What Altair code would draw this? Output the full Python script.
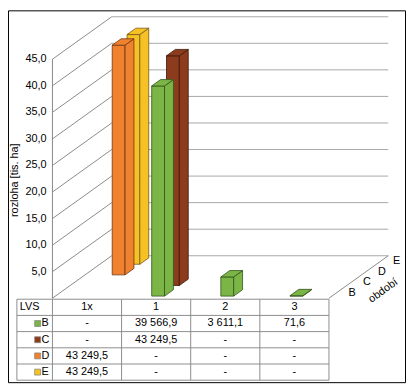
import altair as alt
import pandas as pd

# ---------------- data ----------------
CATEGORIES = ["1x", "1", "2", "3"]
SERIES = ["B", "C", "D", "E"]
B_VALUES = [None, 39566.9, 3611.1, 71.6]
C_VALUES = [None, 43249.5, None, None]
D_VALUES = [43249.5, None, None, None]
E_VALUES = [43249.5, None, None, None]
Y_TICKS = [5, 10, 15, 20, 25, 30, 35, 40, 45]
Y_MAX = 45
Y_TITLE = "rozloha [tis. ha]"
DEPTH_TITLE = "období"
TABLE_HEAD = "LVS"

# ---------------- styles ----------------
FRONT = ["#7BB545", "#8C3C1D", "#F0822F", "#F6C223"]
SIDE = ["#4E7C2F", "#5A2711", "#A3552A", "#A8862F"]
TOP = ["#5E9236", "#6E3117", "#C4692C", "#C9A033"]
EDGE = ["#34541C", "#3A1706", "#6E3411", "#77591A"]
GRID_DIAG = "#8a8a8a"
GRID_BACK = "#a8a8a8"
TABLE_LINE = "#8c8c8c"
FONT = "Liberation Sans"

# ---------------- geometry (chart px) ----------------
X0_PX = 45.0        # position of category 0 on the front edge
CAT_PX = 70.0       # width of one category
Y0_PX = 291.5       # value 0 on the front edge
K = 5.378           # px per tis. ha
DEPTH_DX, DEPTH_DY = 60.0, 43.0
SLOT_DX, SLOT_DY = DEPTH_DX / 4, DEPTH_DY / 4
GAP = 0.2
BAR_DEPTH = 0.6
BAR_W = 13.0
BAR_SHIFT = -1.0
ROW_H = 16.4
TABLE_TOP = 300.5 - 8  # chart px
TABLE_LEFT = 17 - 8


def ux(px):
    return px / CAT_PX


def uy(px):
    return px / K


def cx(chart_px):  # chart px -> x units
    return (chart_px - X0_PX) / CAT_PX


def cy(chart_px):  # chart px -> y units
    return (Y0_PX - chart_px) / K


XS = alt.Scale(domain=[0, 4], range=[X0_PX, X0_PX + 4 * CAT_PX], nice=False, zero=False)
YS = alt.Scale(domain=[0, Y_MAX], range=[Y0_PX, Y0_PX - Y_MAX * K], nice=False, zero=False)


def X(f="x"):
    return alt.X(f, type="quantitative", scale=XS, axis=None)


def Y(f="y"):
    return alt.Y(f, type="quantitative", scale=YS, axis=None)


series_vals = dict(zip(SERIES, [B_VALUES, C_VALUES, D_VALUES, E_VALUES]))

# ---------------- bars ----------------
front_rows, side_rows, top_rows = [], [], []
for i, s in enumerate(reversed(SERIES)):
    idx = SERIES.index(s)
    for j, c in enumerate(CATEGORIES):
        v = series_vals[s][j]
        if v is None:
            continue
        h = v / 1000.0
        ddx = ux(idx * SLOT_DX + GAP * SLOT_DX)
        ddy = uy(idx * SLOT_DY + GAP * SLOT_DY)
        x1 = j + 0.5 + ux(BAR_SHIFT - BAR_W / 2) + ddx
        x2 = x1 + ux(BAR_W)
        yb, yt = ddy, ddy + h
        bdx, bdy = ux(BAR_DEPTH * SLOT_DX), uy(BAR_DEPTH * SLOT_DY)
        bid = f"{s}-{c}"
        front_rows.append(dict(id=bid, series=s, x=x1, x2=x2, y=yb, y2=yt))
        side_rows.append(dict(id=bid, series=s, x=x2, y=yb, y2=yt))
        side_rows.append(dict(id=bid, series=s, x=x2 + bdx, y=yb + bdy, y2=yt + bdy))
        top_rows.append(dict(id=bid, series=s, y=yt, x=x1, x2=x2))
        top_rows.append(dict(id=bid, series=s, y=yt + bdy, x=x1 + bdx, x2=x2 + bdx))

fill_front = alt.Fill("series:N", scale=alt.Scale(domain=SERIES, range=FRONT), legend=None)
fill_side = alt.Fill("series:N", scale=alt.Scale(domain=SERIES, range=SIDE), legend=None)
fill_top = alt.Fill("series:N", scale=alt.Scale(domain=SERIES, range=TOP), legend=None)
stroke_edge = alt.Stroke("series:N", scale=alt.Scale(domain=SERIES, range=EDGE), legend=None)

fronts = alt.Chart(pd.DataFrame(front_rows)).mark_rect(strokeWidth=0.8).encode(
    x=X("x"), x2="x2", y=Y("y"), y2="y2", fill=fill_front, stroke=stroke_edge
)
sides = alt.Chart(pd.DataFrame(side_rows)).mark_area(orient="vertical", strokeWidth=0.8).encode(
    x=X("x"), y=alt.Y("y", type="quantitative", scale=YS, axis=None, stack=False), y2="y2",
    fill=fill_side, stroke=stroke_edge, detail="id:N"
)
tops = alt.Chart(pd.DataFrame(top_rows)).mark_area(orient="horizontal", strokeWidth=0.8).encode(
    y=Y("y"), x=alt.X("x", type="quantitative", scale=XS, axis=None, stack=False), x2="x2",
    fill=fill_top, stroke=stroke_edge, detail="id:N"
)

# ---------------- walls / gridlines ----------------
diag_rows, back_rows = [], []
for t in [0] + Y_TICKS:
    diag_rows.append(dict(x=0, x2=ux(DEPTH_DX), y=t, y2=t + uy(DEPTH_DY)))
    back_rows.append(dict(x=ux(DEPTH_DX), x2=4 + ux(DEPTH_DX), y=t + uy(DEPTH_DY), y2=t + uy(DEPTH_DY)))
diag_rows.append(dict(x=4, x2=4 + ux(DEPTH_DX), y=0, y2=uy(DEPTH_DY)))  # floor right edge

diag = alt.Chart(pd.DataFrame(diag_rows)).mark_rule(color=GRID_DIAG, strokeWidth=1).encode(
    x=X("x"), x2="x2", y=Y("y"), y2="y2"
)
back = alt.Chart(pd.DataFrame(back_rows)).mark_rule(color=GRID_BACK, strokeWidth=1).encode(
    x=X("x"), x2="x2", y=Y("y"), y2="y2"
)
yaxis_line = alt.Chart(pd.DataFrame([dict(x=0, y=0, y2=Y_MAX)])).mark_rule(
    color="#868686", strokeWidth=1
).encode(x=X("x"), y=Y("y"), y2="y2")

ytick_df = pd.DataFrame(
    [dict(x=ux(-6), y=t, label=f"{t:.1f}".replace(".", ",")) for t in Y_TICKS]
)
ylabels = alt.Chart(ytick_df).mark_text(
    align="right", baseline="middle", font=FONT, fontSize=11, color="#000"
).encode(x=X("x"), y=Y("y"), text="label:N")

ytitle = alt.Chart(pd.DataFrame([dict(x=cx(15 - 8), y=cy(180 - 8), t=Y_TITLE)])).mark_text(
    angle=270, align="center", baseline="middle", font=FONT, fontSize=11, color="#000"
).encode(x=X("x"), y=Y("y"), text="t:N")

depth_df = pd.DataFrame(
    [dict(x=4 + ux((i + 0.5) * SLOT_DX + 16), y=uy((i + 0.5) * SLOT_DY), t=s) for i, s in enumerate(SERIES)]
)
depth_labels = alt.Chart(depth_df).mark_text(
    align="center", baseline="middle", font=FONT, fontSize=11, color="#000"
).encode(x=X("x"), y=Y("y"), text="t:N")
depth_title = alt.Chart(pd.DataFrame([dict(x=cx(388 - 8), y=cy(292 - 8), t=DEPTH_TITLE)])).mark_text(
    angle=324, align="center", baseline="middle", font=FONT, fontSize=11, color="#000"
).encode(x=X("x"), y=Y("y"), text="t:N")

# ---------------- data table ----------------
n_rows = len(SERIES) + 1
tab_lines = []
xl = cx(TABLE_LEFT)
for r in range(n_rows + 1):
    yy = cy(TABLE_TOP + r * ROW_H)
    tab_lines.append(dict(x=xl, x2=4, y=yy, y2=yy))
ybot = cy(TABLE_TOP + n_rows * ROW_H)
ytop = cy(TABLE_TOP)
for xv in [xl, 0, 1, 2, 3, 4]:
    tab_lines.append(dict(x=xv, x2=xv, y=ytop, y2=ybot))
table_lines = alt.Chart(pd.DataFrame(tab_lines)).mark_rule(color=TABLE_LINE, strokeWidth=1).encode(
    x=X("x"), x2="x2", y=Y("y"), y2="y2"
)


def fmt(v):
    if v is None:
        return "-"
    return f"{v:,.1f}".replace(",", " ").replace(".", ",")


def row_y(r):
    return cy(TABLE_TOP + (r + 0.5) * ROW_H)


center_cells = [dict(x=j + 0.5, y=row_y(0), t=c) for j, c in enumerate(CATEGORIES)]
for i, s in enumerate(SERIES):
    for j in range(len(CATEGORIES)):
        center_cells.append(dict(x=j + 0.5, y=row_y(i + 1), t=fmt(series_vals[s][j])))
cells = alt.Chart(pd.DataFrame(center_cells)).mark_text(
    align="center", baseline="middle", font=FONT, fontSize=11, color="#000"
).encode(x=X("x"), y=Y("y"), text="t:N")

left_cells = [dict(x=cx(20 - 8), y=row_y(0), t=TABLE_HEAD)]
for i, s in enumerate(SERIES):
    left_cells.append(dict(x=cx(42 - 8), y=row_y(i + 1), t=s))
lcells = alt.Chart(pd.DataFrame(left_cells)).mark_text(
    align="left", baseline="middle", font=FONT, fontSize=11, color="#000"
).encode(x=X("x"), y=Y("y"), text="t:N")

keys = alt.Chart(
    pd.DataFrame([dict(x=cx(38 - 8), y=row_y(i + 1), series=s) for i, s in enumerate(SERIES)])
).mark_square(size=36, opacity=1, stroke="#7f7f7f", strokeWidth=0.7).encode(
    x=X("x"), y=Y("y"), fill=fill_front
)

# ---------------- outer border ----------------
border = alt.Chart(
    pd.DataFrame([dict(x=cx(0.5), x2=cx(402.5), y=cy(377.0), y2=cy(0.5))])
).mark_rect(fill="transparent", stroke="#000", strokeWidth=1).encode(
    x=X("x"), x2="x2", y=Y("y"), y2="y2"
)

chart = alt.layer(
    back, diag, yaxis_line, ylabels, ytitle, depth_labels, depth_title,
    fronts, sides, tops,
    table_lines, cells, lcells, keys, border,
).properties(
    width=403, height=378, padding=0, autosize=alt.AutoSizeParams(type="none")
).configure_view(strokeWidth=0)

chart.save("out.html", embed_options={"renderer": "svg", "actions": False})
